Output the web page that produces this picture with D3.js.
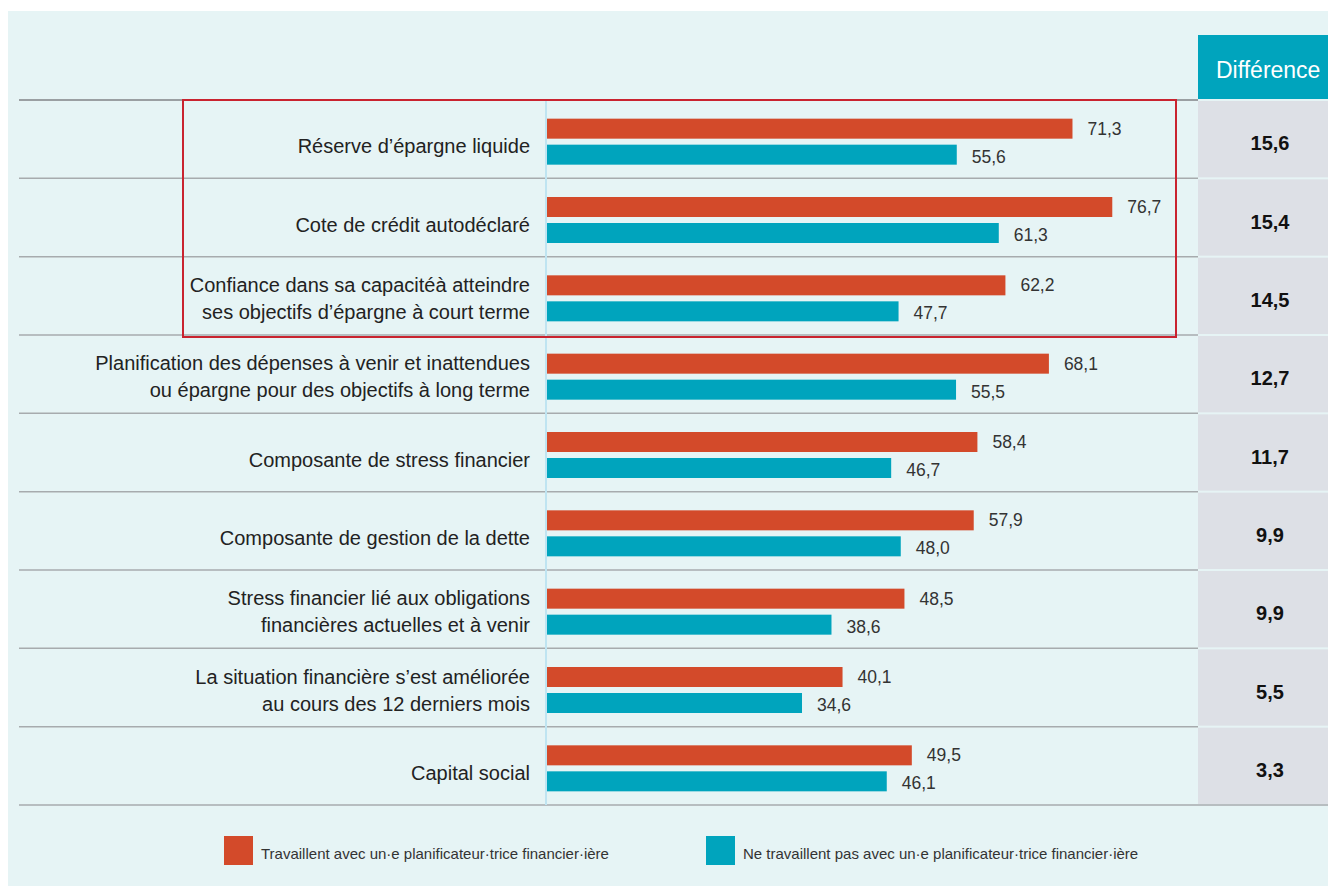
<!DOCTYPE html>
<html><head><meta charset="utf-8">
<script src="https://cdn.jsdelivr.net/npm/d3@7"></script>
<style>
html,body{margin:0;padding:0;background:#fff;}
svg{display:block;font-family:"Liberation Sans",Arial,Helvetica,sans-serif;}
</style></head>
<body><svg id="chart" width="1336" height="886"></svg>
<script>
const categories = [
  ["Réserve d’épargne liquide"],
  ["Cote de crédit autodéclaré"],
  ["Confiance dans sa capacitéà atteindre","ses objectifs d’épargne à court terme"],
  ["Planification des dépenses à venir et inattendues","ou épargne pour des objectifs à long terme"],
  ["Composante de stress financier"],
  ["Composante de gestion de la dette"],
  ["Stress financier lié aux obligations","financières actuelles et à venir"],
  ["La situation financière s’est améliorée","au cours des 12 derniers mois"],
  ["Capital social"]
];
const withPlanner    = [71.3, 76.7, 62.2, 68.1, 58.4, 57.9, 48.5, 40.1, 49.5];
const withoutPlanner = [55.6, 61.3, 47.7, 55.5, 46.7, 48.0, 38.6, 34.6, 46.1];
const differences    = ["15,6","15,4","14,5","12,7","11,7","9,9","9,9","5,5","3,3"];
const seriesNames = ["Travaillent avec un·e planificateur·trice financier·ière",
                     "Ne travaillent pas avec un·e planificateur·trice financier·ière"];
const diffHeader = "Différence";

const RED = "#d34a2a", TEAL = "#00a4bd";
const fmt = v => d3.format(".1f")(v).replace(".", ",");

const svg = d3.select("#chart");
svg.append("rect").attr("x",8).attr("y",11).attr("width",1320).attr("height",875).attr("fill","#e6f4f5");

const idx = d3.range(categories.length);
const y = d3.scaleBand().domain(idx).range([100, 805]).padding(0);
const x = d3.scaleLinear().domain([0, 100]).range([547, 1284]);

svg.append("rect").attr("x",1198).attr("y",35).attr("width",130).attr("height",64).attr("fill","#00a4bd");
svg.append("clipPath").attr("id","hclip").append("rect").attr("x",1198).attr("y",35).attr("width",130).attr("height",64);
svg.append("text").attr("x",1216).attr("y",70).attr("dy","0.35em").attr("clip-path","url(#hclip)")
  .attr("fill","#fff").attr("font-size",23).text(diffHeader);

svg.selectAll("rect.diff").data(idx).join("rect").attr("class","diff")
  .attr("x",1198).attr("width",130)
  .attr("y",i=>y(i)+1).attr("height",y.bandwidth()-2)
  .attr("fill","#dde0e6");
svg.selectAll("text.diff").data(idx).join("text").attr("class","diff")
  .attr("x",1270).attr("y",i=>y(i)+y.bandwidth()/2+4).attr("dy","0.35em")
  .attr("text-anchor","middle").attr("font-weight","bold").attr("font-size",20).attr("fill","#111")
  .text(i=>differences[i]);

const seps = d3.range(categories.length+1).map(i => i<categories.length ? y(i) : 805);
svg.selectAll("line.sep").data(seps).join("line").attr("class","sep")
  .attr("x1",19).attr("x2",(d,i)=> i===seps.length-1 ? 1328 : 1198)
  .attr("y1",d=>d).attr("y2",d=>d)
  .attr("stroke",(d,i)=> i===0 ? "#9a9fa2" : "#a7abae").attr("stroke-width",(d,i)=> i===0 ? 2 : 1.5);

svg.append("line").attr("x1",546).attr("x2",546).attr("y1",100).attr("y2",805)
  .attr("stroke","#bfe4f1").attr("stroke-width",2);

const barH = 20, gap = 6;
const mid = i => y(i)+y.bandwidth()/2 + 2.5;
svg.selectAll("rect.r").data(idx).join("rect").attr("class","r")
  .attr("x",x(0)).attr("y",i=>mid(i)-gap/2-barH).attr("height",barH)
  .attr("width",i=>x(withPlanner[i])-x(0)).attr("fill",RED);
svg.selectAll("rect.t").data(idx).join("rect").attr("class","t")
  .attr("x",x(0)).attr("y",i=>mid(i)+gap/2).attr("height",barH)
  .attr("width",i=>x(withoutPlanner[i])-x(0)).attr("fill",TEAL);
svg.selectAll("text.rv").data(idx).join("text").attr("class","rv")
  .attr("x",i=>x(withPlanner[i])+15).attr("y",i=>mid(i)-gap/2-barH/2).attr("dy","0.35em")
  .attr("font-size",17.5).attr("fill","#333").text(i=>fmt(withPlanner[i]));
svg.selectAll("text.tv").data(idx).join("text").attr("class","tv")
  .attr("x",i=>x(withoutPlanner[i])+15).attr("y",i=>mid(i)+gap/2+barH/2+2).attr("dy","0.35em")
  .attr("font-size",17.5).attr("fill","#333").text(i=>fmt(withoutPlanner[i]));

const lbl = svg.selectAll("g.lbl").data(idx).join("g").attr("class","lbl");
lbl.each(function(i){
  const lines = categories[i];
  const c = y(i)+y.bandwidth()/2;
  const lh = 27;
  d3.select(this).selectAll("text").data(lines).join("text")
    .attr("x",530).attr("text-anchor","end")
    .attr("y",(d,k)=> c + (k-(lines.length-1)/2)*lh + (lines.length===1?7:2.5)).attr("dy","0.35em")
    .attr("font-size",20).attr("fill","#222").text(d=>d);
});

svg.append("rect").attr("x",183).attr("y",100).attr("width",993).attr("height",237)
  .attr("fill","none").attr("stroke","#c9232f").attr("stroke-width",2);

const leg = [{c:RED,x:224,t:seriesNames[0]},{c:TEAL,x:706,t:seriesNames[1]}];
leg.forEach(l=>{
  svg.append("rect").attr("x",l.x).attr("y",836).attr("width",29).attr("height",29).attr("fill",l.c);
  svg.append("text").attr("x",l.x+37).attr("y",854).attr("dy","0.35em").attr("font-size",15)
    .attr("fill","#333").text(l.t);
});
</script></body></html>
